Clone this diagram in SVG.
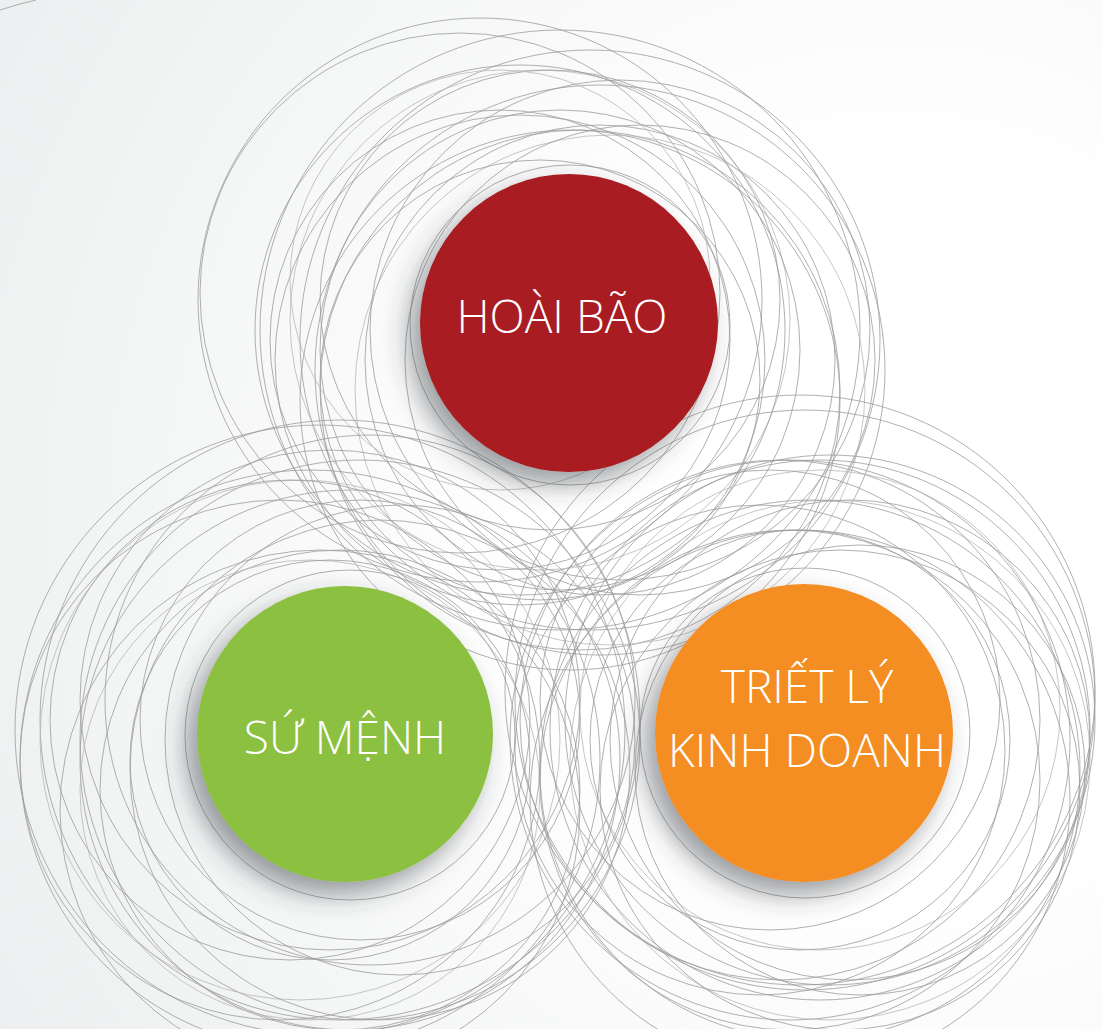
<svg xmlns="http://www.w3.org/2000/svg" width="1102" height="1029" viewBox="0 0 1102 1029">
  <defs>
    <radialGradient id="bg" cx="900" cy="520" r="1050" gradientUnits="userSpaceOnUse">
      <stop offset="0.35" stop-color="#ffffff"/>
      <stop offset="1" stop-color="#eceeef"/>
    </radialGradient>
    <filter id="shadow" x="-40%" y="-40%" width="180%" height="180%">
      <feDropShadow dx="-11" dy="13" stdDeviation="13" flood-color="#343a40" flood-opacity="0.5"/>
    </filter>
  </defs>
  <style>
    .ring { fill: none; stroke: #9c9c9c; stroke-width: 0.8; }
    .ring.lt { stroke: #b8b8b8; }
    .label { font-family: "Open Sans", "Liberation Sans", sans-serif; font-weight: 300; font-size: 46px; fill: #ffffff; text-anchor: middle; }
  </style>

  <rect width="1102" height="1029" fill="url(#bg)"/>

  <!-- stray arc at the top-left edge -->
  <path d="M0 10 Q18 4 36 0" class="ring"/>

  <g id="connectors">
    <!-- rings around the top node -->
    <g id="rings-top">
      <circle class="ring" cx="460" cy="293" r="260"/>
      <circle class="ring" cx="480" cy="300" r="282"/>
      <circle class="ring" cx="560" cy="330" r="300"/>
      <circle class="ring" cx="590" cy="340" r="290"/>
      <circle class="ring lt" cx="540" cy="320" r="250"/>
      <circle class="ring" cx="600" cy="370" r="285"/>
      <circle class="ring" cx="520" cy="330" r="265"/>
      <circle class="ring" cx="560" cy="350" r="240"/>
      <circle class="ring" cx="600" cy="360" r="235"/>
      <circle class="ring" cx="580" cy="390" r="260"/>
      <circle class="ring" cx="520" cy="360" r="245"/>
      <circle class="ring" cx="620" cy="330" r="250"/>
      <circle class="ring" cx="500" cy="340" r="230"/>
      <circle class="ring" cx="570" cy="400" r="270"/>
      <circle class="ring lt" cx="610" cy="390" r="255"/>
      <circle class="ring" cx="550" cy="300" r="230"/>
      <circle class="ring" cx="640" cy="360" r="235"/>
      <circle class="ring" cx="540" cy="380" r="220"/>
      <circle class="ring" cx="570" cy="325" r="160"/>
      <circle class="ring lt" cx="500" cy="280" r="210"/>
    </g>
    <!-- rings around the lower-left node -->
    <g id="rings-left">
      <circle class="ring" cx="320" cy="730" r="305"/>
      <circle class="ring" cx="340" cy="720" r="300"/>
      <circle class="ring" cx="310" cy="760" r="290"/>
      <circle class="ring" cx="360" cy="740" r="280"/>
      <circle class="ring lt" cx="300" cy="740" r="260"/>
      <circle class="ring" cx="350" cy="760" r="270"/>
      <circle class="ring" cx="330" cy="700" r="250"/>
      <circle class="ring" cx="380" cy="770" r="250"/>
      <circle class="ring" cx="290" cy="720" r="240"/>
      <circle class="ring" cx="340" cy="790" r="240"/>
      <circle class="ring" cx="360" cy="720" r="220"/>
      <circle class="ring lt" cx="310" cy="790" r="230"/>
      <circle class="ring" cx="400" cy="740" r="235"/>
      <circle class="ring" cx="330" cy="760" r="200"/>
      <circle class="ring" cx="350" cy="735" r="165"/>
      <circle class="ring" cx="280" cy="760" r="260"/>
      <circle class="ring" cx="370" cy="700" r="265"/>
      <circle class="ring" cx="320" cy="810" r="260"/>
    </g>
    <!-- rings around the lower-right node -->
    <g id="rings-right">
      <circle class="ring" cx="805" cy="700" r="290"/>
      <circle class="ring" cx="800" cy="690" r="295"/>
      <circle class="ring" cx="820" cy="730" r="270"/>
      <circle class="ring" cx="790" cy="740" r="280"/>
      <circle class="ring lt" cx="830" cy="760" r="260"/>
      <circle class="ring" cx="780" cy="720" r="260"/>
      <circle class="ring" cx="810" cy="770" r="270"/>
      <circle class="ring" cx="850" cy="740" r="240"/>
      <circle class="ring" cx="790" cy="780" r="250"/>
      <circle class="ring lt" cx="820" cy="710" r="240"/>
      <circle class="ring" cx="760" cy="750" r="245"/>
      <circle class="ring" cx="840" cy="790" r="240"/>
      <circle class="ring" cx="800" cy="740" r="210"/>
      <circle class="ring" cx="805" cy="733" r="165"/>
      <circle class="ring" cx="770" cy="700" r="230"/>
      <circle class="ring" cx="830" cy="720" r="265"/>
      <circle class="ring" cx="800" cy="800" r="270"/>
      <circle class="ring" cx="860" cy="770" r="225"/>
    </g>
  </g>

  <g id="node-hoai-bao">
    <circle cx="569" cy="323" r="149" fill="#a81d23" filter="url(#shadow)"/>
    <text class="label" x="562" y="333">HOÀI BÃO</text>
  </g>

  <g id="node-su-menh">
    <circle cx="345" cy="734" r="148" fill="#8bc040" filter="url(#shadow)"/>
    <text class="label" x="345" y="754">SỨ MỆNH</text>
  </g>

  <g id="node-triet-ly">
    <circle cx="804" cy="733" r="149" fill="#f48d21" filter="url(#shadow)"/>
    <text class="label" x="807" y="703">TRIẾT LÝ</text>
    <text class="label" x="807" y="767">KINH DOANH</text>
  </g>
</svg>
